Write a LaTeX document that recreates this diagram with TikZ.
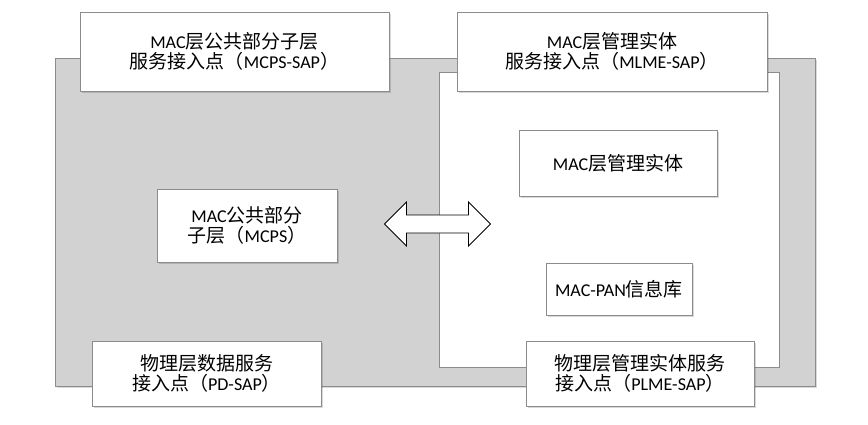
\documentclass[tikz,border=0pt]{standalone}
\usepackage{fontspec}
\setmainfont{Carlito}
\newfontfamily\cjk{Noto Sans CJK SC}
\newfontfamily\enfont[Scale=0.95]{Carlito}
\newcommand\en[1]{{\enfont #1}}
\usetikzlibrary{shadows}
\definecolor{layergray}{RGB}{210,210,210}
\definecolor{edgegray}{RGB}{140,140,140}
\tikzset{
  softshadow/.style={drop shadow={shadow xshift=1.5pt,shadow yshift=-1.5pt,fill=black,opacity=.15}},
  sapbox/.style={draw=edgegray,fill=white,inner sep=0pt,align=center,softshadow,
    font=\cjk\fontsize{19}{20}\selectfont},
}
\begin{document}
\begin{tikzpicture}[x=1pt,y=-1pt]
        \useasboundingbox (0,0) rectangle (868,424);

        % sublayer areas
        \node (mcpsarea) [draw=edgegray,fill=layergray,softshadow,inner sep=0pt,
                          minimum width=760pt,minimum height=328pt] at (435,222) {};
        \node (mlmearea) [draw=edgegray,fill=white,inner sep=0pt,
                          minimum width=340pt,minimum height=295pt] at (609,219.5) {};

        % service access points
        \node (mcpssap)  [sapbox,minimum width=309pt,minimum height=79pt] at (234.5,51.5)
              {\en{MAC}层公共部分子层\\服务接入点（\en{MCPS-SAP}）};
        \node (mlmesap)  [sapbox,minimum width=310pt,minimum height=79pt] at (612,51.5)
              {\en{MAC}层管理实体\\服务接入点（\en{MLME-SAP}）};
        \node (pdsap)    [sapbox,minimum width=229pt,minimum height=65pt] at (206.5,373.5)
              {物理层数据服务\\接入点（\en{PD-SAP}）};
        \node (plmesap)  [sapbox,minimum width=228pt,minimum height=65pt] at (640,373.5)
              {物理层管理实体服务\\接入点（\en{PLME-SAP}）};

        % entities
        \node (mcps)     [sapbox,minimum width=180pt,minimum height=73pt] at (247,225.5)
              {\en{MAC}公共部分\\子层（\en{MCPS}）};
        \node (mlme)     [sapbox,minimum width=198pt,minimum height=66pt] at (618,163)
              {\en{MAC}层管理实体};
        \node (pib)      [sapbox,minimum width=146pt,minimum height=52pt] at (619,289)
              {\en{MAC-PAN}信息库};

        % exchange arrow
        \coordinate (xchg) at (437.5,224);
        \draw [fill=white,line width=0.8pt,line join=miter]
              ([shift={(-53,0)}]xchg) -- ([shift={(-31,-22)}]xchg) -- ([shift={(-31,-9)}]xchg)
              -- ([shift={(31,-9)}]xchg) -- ([shift={(31,-22)}]xchg) -- ([shift={(53,0)}]xchg)
              -- ([shift={(31,22)}]xchg) -- ([shift={(31,9)}]xchg) -- ([shift={(-31,9)}]xchg)
              -- ([shift={(-31,22)}]xchg) -- cycle;
      \end{tikzpicture}
\end{document}
